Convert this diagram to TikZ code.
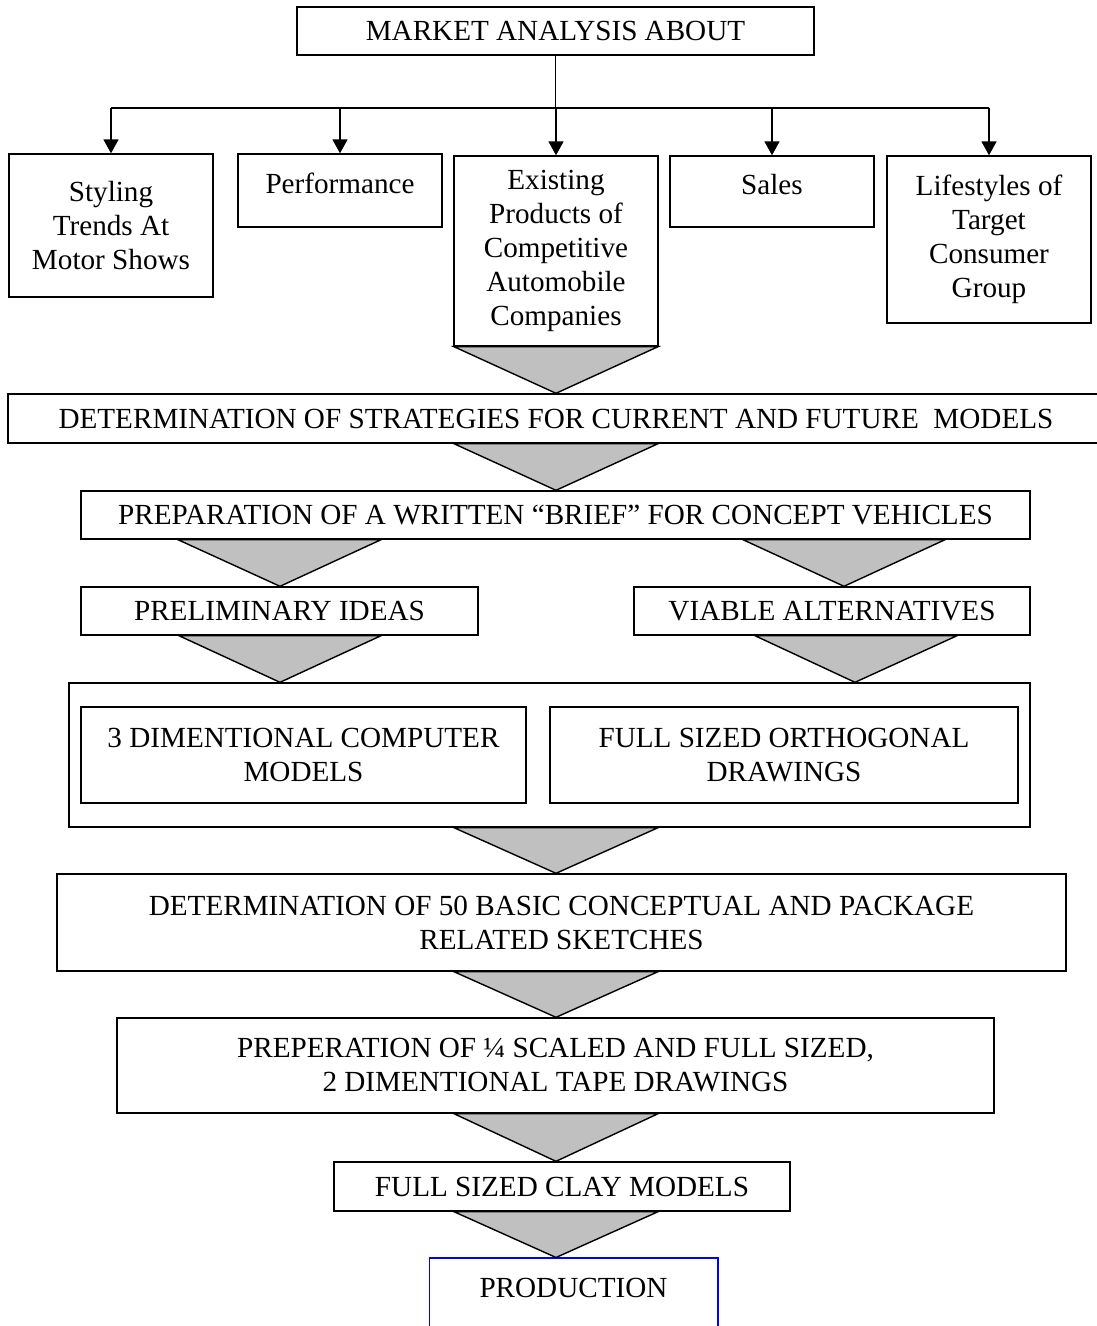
\documentclass[tikz,border=0pt]{standalone}
\usepackage{fontspec}
\setmainfont{Liberation Serif}
\usetikzlibrary{arrows.meta}
\definecolor{funnelgray}{RGB}{192,192,192}
\tikzset{
  box/.style={draw, line width=0.8pt, align=center, inner sep=2pt,
    font=\fontsize{16.6}{19.4}\selectfont},
  funnel/.style={draw, line width=0.8pt, fill=funnelgray, line join=miter},
  feed/.style={-{Triangle[width=0.3cm,length=0.28cm]}, line width=1pt},
}
\begin{document}
\begin{tikzpicture}[x=0.02cm, y=-0.02cm]
    \useasboundingbox (0,0) rectangle (1096,1326);

    % Top box
    \node[box, minimum width=10.34cm, minimum height=0.96cm] (market) at (555.5,31) {MARKET ANALYSIS ABOUT};

    % Analysis topics
    \node[box, minimum width=4.08cm, minimum height=2.86cm] (styling) at (111,225.5) {Styling\\Trends At\\Motor Shows};
    \node[box, minimum width=4.08cm, minimum height=1.46cm, text depth=0.3cm] (perf) at (340,190.5) {Performance};
    \node[box, minimum width=4.08cm, minimum height=3.8cm] (exist) at (556,251) {Existing\\Products of\\Competitive\\Automobile\\Companies};
    \node[box, minimum width=4.08cm, minimum height=1.42cm, text depth=0.3cm] (sales) at (772,191.5) {Sales};
    \node[box, minimum width=4.08cm, minimum height=3.34cm] (life) at (989,239.5) {Lifestyles of\\Target\\Consumer\\Group};

    % Branching arrows
    \coordinate (bus) at (550,108);
    \draw[line width=1pt] (market.south) -- (market.south |- bus);
    \draw[line width=1pt] (styling.north |- bus) -- (life.north |- bus);
    \draw[feed] (styling.north |- bus) -- (styling.north);
    \draw[feed] (perf.north |- bus) -- (perf.north);
    \draw[feed] (exist.north |- bus) -- (exist.north);
    \draw[feed] (sales.north |- bus) -- (sales.north);
    \draw[feed] (life.north |- bus) -- (life.north);

    % Process steps
    \node[box, minimum width=21.92cm, minimum height=0.98cm] (strat) at (556,418.5) {DETERMINATION OF STRATEGIES FOR CURRENT AND FUTURE \ MODELS};
    \node[box, minimum width=18.98cm, minimum height=0.96cm] (brief) at (555.5,515) {PREPARATION OF A WRITTEN “BRIEF” FOR CONCEPT VEHICLES};
    \node[box, minimum width=7.94cm, minimum height=0.96cm] (prelim) at (279.5,611) {PRELIMINARY IDEAS};
    \node[box, minimum width=7.92cm, minimum height=0.96cm] (viable) at (832,611) {VIABLE ALTERNATIVES};

    % Outer frame with the two model boxes
    \node[box, minimum width=19.22cm, minimum height=2.88cm] (models) at (549.5,755) {};
    \node[box, minimum width=8.9cm, minimum height=1.92cm] (comp) at (303.5,755) {3 DIMENTIONAL COMPUTER\\MODELS};
    \node[box, minimum width=9.36cm, minimum height=1.92cm] (ortho) at (784,755) {FULL SIZED ORTHOGONAL\\DRAWINGS};

    \node[box, minimum width=20.18cm, minimum height=1.94cm] (sketch) at (561.5,922.5) {DETERMINATION OF 50 BASIC CONCEPTUAL AND PACKAGE\\RELATED SKETCHES};
    \node[box, minimum width=17.54cm, minimum height=1.9cm] (tape) at (555.5,1065.5) {PREPERATION OF ¼ SCALED AND FULL SIZED,\\2 DIMENTIONAL TAPE DRAWINGS};
    \node[box, minimum width=9.12cm, minimum height=0.98cm] (clay) at (562,1186.5) {FULL SIZED CLAY MODELS};
    \node[box, draw=blue, line width=0.6pt, minimum width=5.78cm, minimum height=1.8cm, text depth=0.6cm] (prod) at (573.5,1303) {PRODUCTION};

    % Gray funnels between steps
    \draw[funnel] (454,0 |- exist.south) -- (556,0 |- strat.north) -- (658,0 |- exist.south) -- cycle;
    \draw[funnel] (454,0 |- strat.south) -- (556,0 |- brief.north) -- (658,0 |- strat.south) -- cycle;
    \draw[funnel] (178,0 |- brief.south) -- (280,0 |- prelim.north) -- (381,0 |- brief.south) -- cycle;
    \draw[funnel] (743,0 |- brief.south) -- (844,0 |- viable.north) -- (945,0 |- brief.south) -- cycle;
    \draw[funnel] (179,0 |- prelim.south) -- (280,0 |- models.north) -- (381,0 |- prelim.south) -- cycle;
    \draw[funnel] (755,0 |- viable.south) -- (855,0 |- models.north) -- (957,0 |- viable.south) -- cycle;
    \draw[funnel] (454,0 |- models.south) -- (556,0 |- sketch.north) -- (658,0 |- models.south) -- cycle;
    \draw[funnel] (454,0 |- sketch.south) -- (556,0 |- tape.north) -- (658,0 |- sketch.south) -- cycle;
    \draw[funnel] (454,0 |- tape.south) -- (556,0 |- clay.north) -- (658,0 |- tape.south) -- cycle;
    \draw[funnel] (454,0 |- clay.south) -- (556,0 |- prod.north) -- (658,0 |- clay.south) -- cycle;
\end{tikzpicture}
\end{document}
